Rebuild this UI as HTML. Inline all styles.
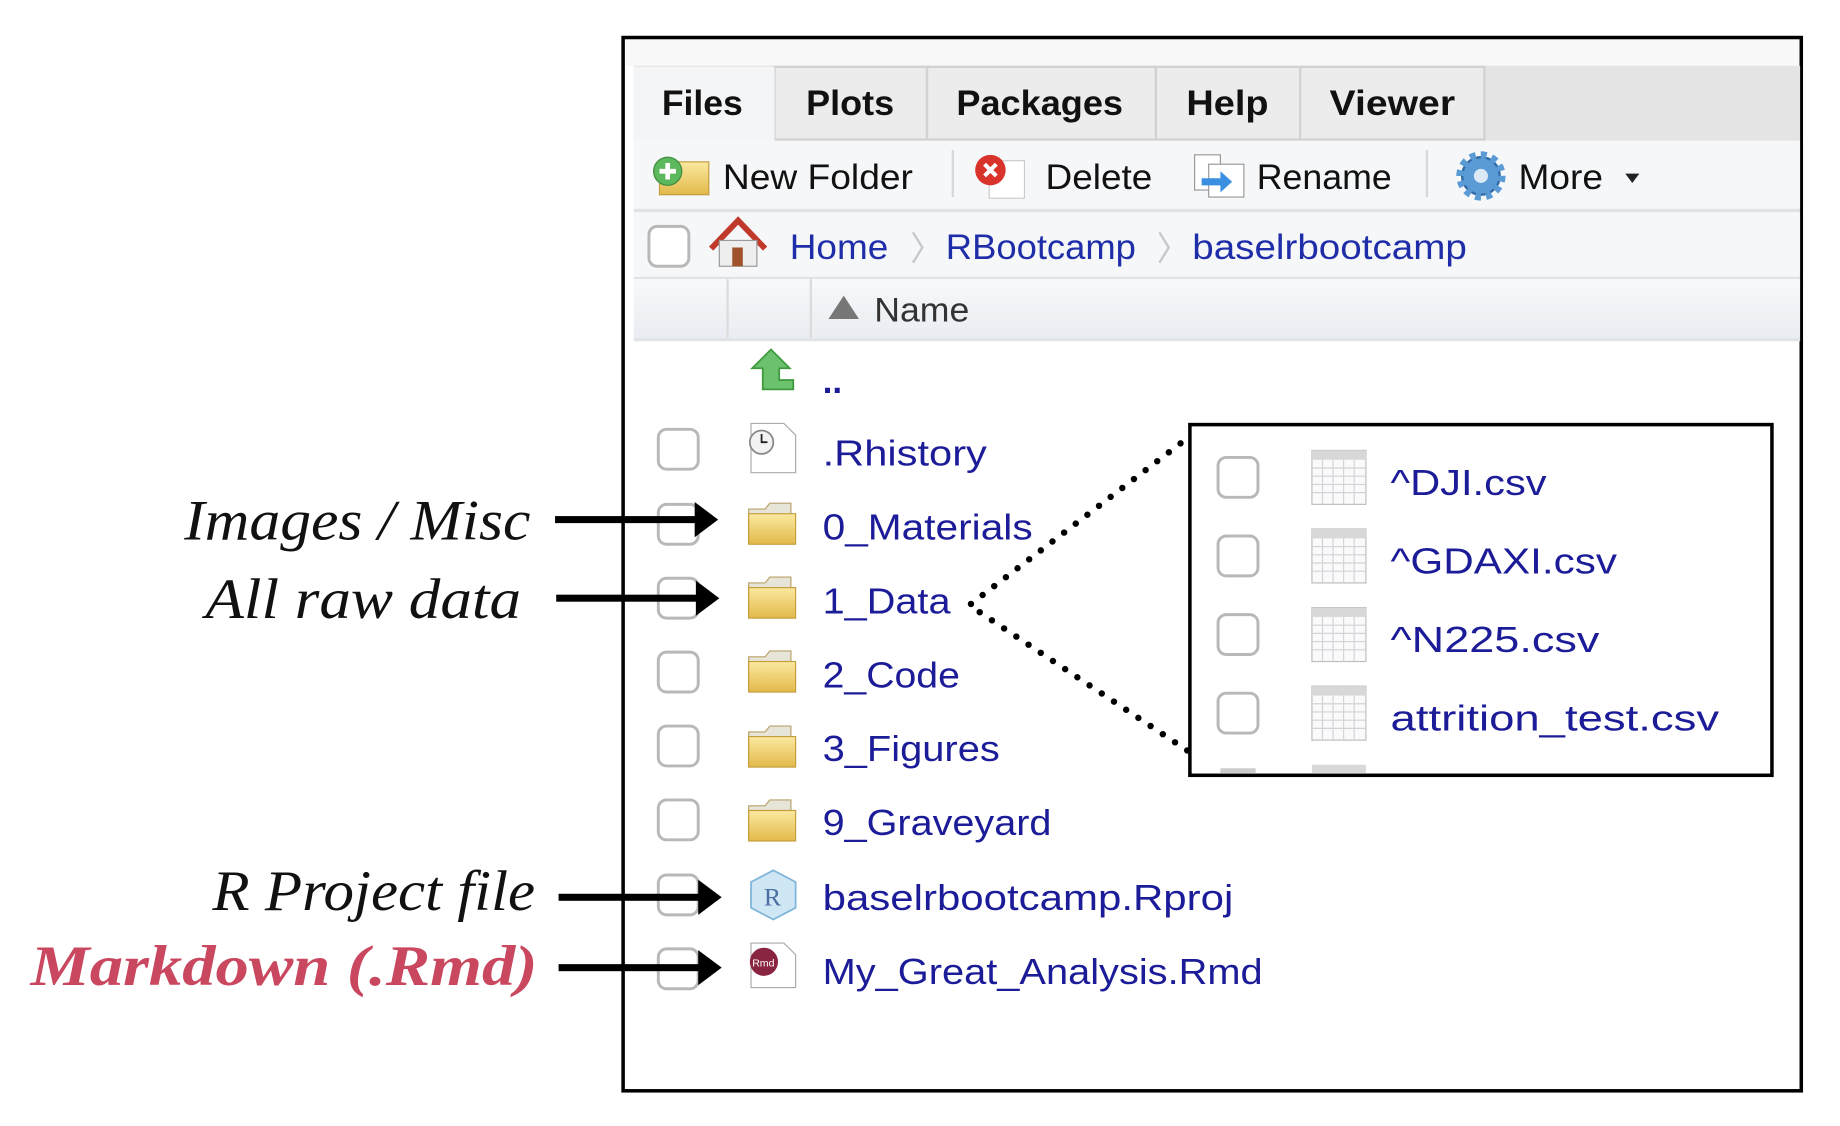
<!DOCTYPE html>
<html><head><meta charset="utf-8"><style>
html,body{margin:0;padding:0;background:#fff;width:1840px;height:1126px;overflow:hidden}
svg{display:block}
.ui{font-family:"Liberation Sans","DejaVu Sans",sans-serif}
.lab{font-family:"Liberation Serif","DejaVu Serif",serif;font-style:italic;font-size:49px}
.f{fill:#1c1c99;font-size:31px}
</style></head><body>
<svg width="1840" height="1126" viewBox="0 0 1568 960" preserveAspectRatio="none" xmlns="http://www.w3.org/2000/svg">
<defs>
<linearGradient id="fold" x1="0" y1="0" x2="0" y2="1"><stop offset="0" stop-color="#fbe9a0"/><stop offset="1" stop-color="#e2b94a"/></linearGradient>
<linearGradient id="hdr" x1="0" y1="0" x2="0" y2="1"><stop offset="0" stop-color="#f7f9fb"/><stop offset="1" stop-color="#e9edf1"/></linearGradient>
<g id="folder"><path d="M0 8 h14 l4 -5 h18 v34 h-36z" fill="#e7e4d8" stroke="#b9a26a"/><rect x="0" y="12" width="40" height="26" fill="url(#fold)" stroke="#c49d3b"/></g>
<g id="cb"><rect x="0" y="0" width="34" height="34" rx="7" fill="#fff" stroke="#b8b8b8" stroke-width="2.5"/></g>
<g id="grid"><rect x="0" y="0" width="46" height="46" fill="#fafafa" stroke="#bdbdbd"/><rect x="0" y="0" width="46" height="8" fill="#d8d8d8"/>
<path d="M0 15h46M0 22h46M0 29h46M0 36h46M9 8v38M18 8v38M27 8v38M36 8v38" stroke="#d2d2d8" stroke-width="1"/></g>
</defs>
<rect x="0" y="0" width="1568" height="960" fill="#fff"/>
<rect x="531" y="32" width="1004" height="898" fill="#fff" stroke="#000" stroke-width="3"/>
<rect x="533" y="34" width="1000" height="22" fill="#f8f8f8"/>
<rect x="540" y="56" width="994" height="64" fill="#e4e4e4"/>
<g stroke="#d2d2d2" stroke-width="2">
<rect x="660" y="57" width="130" height="62" fill="#ececec"/>
<rect x="790" y="57" width="195" height="62" fill="#ececec"/>
<rect x="985" y="57" width="123" height="62" fill="#ececec"/>
<rect x="1108" y="57" width="157" height="62" fill="#ececec"/>
</g>
<rect x="540" y="57" width="120" height="66" fill="#f3f5f7"/>
<g class="ui" font-weight="bold" font-size="30" fill="#111" lengthAdjust="spacingAndGlyphs">
<text x="564" y="98" textLength="69" lengthAdjust="spacingAndGlyphs">Files</text><text x="687" y="98" textLength="75" lengthAdjust="spacingAndGlyphs">Plots</text><text x="815" y="98" textLength="142" lengthAdjust="spacingAndGlyphs">Packages</text><text x="1011" y="98" textLength="70" lengthAdjust="spacingAndGlyphs">Help</text><text x="1133" y="98" textLength="107" lengthAdjust="spacingAndGlyphs">Viewer</text></g>
<rect x="540" y="120" width="994" height="58" fill="#f5f7f9"/>
<rect x="540" y="178" width="994" height="3" fill="#dfe3e7"/>
<g class="ui" font-size="30" fill="#111">
<text x="616" y="161" textLength="162" lengthAdjust="spacingAndGlyphs">New Folder</text><text x="891" y="161" textLength="91" lengthAdjust="spacingAndGlyphs">Delete</text><text x="1071" y="161" textLength="115" lengthAdjust="spacingAndGlyphs">Rename</text><text x="1294" y="161" textLength="72" lengthAdjust="spacingAndGlyphs">More</text></g>
<path d="M1385 148 h12 l-6 8z" fill="#222"/>
<line x1="812" y1="128" x2="812" y2="168" stroke="#d8d8d8" stroke-width="2"/>
<line x1="1216" y1="128" x2="1216" y2="168" stroke="#d8d8d8" stroke-width="2"/>
<rect x="562" y="138" width="42" height="28" fill="url(#fold)" stroke="#c49d3b"/>
<circle cx="569" cy="146" r="12" fill="#5cb85c" stroke="#3d8b3d"/><path d="M569 139v14M562 146h14" stroke="#fff" stroke-width="4"/>
<rect x="843" y="137" width="30" height="32" fill="#fff" stroke="#ccc"/>
<circle cx="844" cy="145" r="13" fill="#d9342b"/><path d="M839 140l10 10M849 140l-10 10" stroke="#fff" stroke-width="3.5"/>
<rect x="1018" y="132" width="22" height="30" fill="#fff" stroke="#999"/><rect x="1030" y="140" width="30" height="28" fill="#fff" stroke="#999"/>
<path d="M1024 152h16v-6l10 9-10 9v-6h-16z" fill="#3b8fe0"/>
<g transform="translate(1262 150)"><circle r="16" fill="#5b9bd5" stroke="#2f6aa5" stroke-width="2"/><circle r="18" fill="none" stroke="#5b9bd5" stroke-width="6" stroke-dasharray="5 4.4"/><circle r="6" fill="#dce9f6"/></g>
<rect x="540" y="181" width="994" height="55" fill="#f5f7f9"/>
<rect x="540" y="236" width="994" height="2" fill="#dfe3e7"/>
<use href="#cb" x="553" y="193"/>
<path d="M606 212 l23 -24 l23 24" fill="none" stroke="#c0392b" stroke-width="5"/>
<rect x="613" y="205" width="32" height="22" fill="#eee" stroke="#999"/><rect x="624" y="211" width="9" height="16" fill="#a0522d"/>
<g class="ui" font-size="30" fill="#1f2ea8"><text x="673" y="221" textLength="84" lengthAdjust="spacingAndGlyphs">Home</text><text x="806" y="221" textLength="162" lengthAdjust="spacingAndGlyphs">RBootcamp</text><text x="1016" y="221" textLength="234" lengthAdjust="spacingAndGlyphs">baselrbootcamp</text></g>
<path d="M778 198 l8 13 -8 13M988 198 l8 13 -8 13" fill="none" stroke="#c8c8c8" stroke-width="2"/>
<rect x="540" y="238" width="994" height="50" fill="url(#hdr)"/>
<rect x="540" y="288" width="994" height="3" fill="#e1e5e9"/>
<line x1="620" y1="238" x2="620" y2="288" stroke="#dcdcdc" stroke-width="2"/>
<line x1="691" y1="238" x2="691" y2="288" stroke="#dcdcdc" stroke-width="2"/>
<path d="M706 272 l13 -20 l13 20z" fill="#777"/>
<text class="ui" x="745" y="274" font-size="29" fill="#333" textLength="81" lengthAdjust="spacingAndGlyphs">Name</text>
<path d="M650 332 v-18 h-9 l16 -16 l16 16 h-9 v10 h12 v8z" fill="#6cc26c" stroke="#3f9a3f" stroke-width="1.5"/>
<text class="ui" x="701" y="335" font-size="30" font-weight="bold" fill="#1c1c99">..</text>
<use href="#cb" x="561" y="366"/>
<path d="M640 361 h28 l10 10 v32 h-38z" fill="#fff" stroke="#aaa"/><circle cx="649" cy="377" r="10" fill="#f3f3f3" stroke="#888" stroke-width="1.5"/><path d="M649 370v7h5" stroke="#222" stroke-width="1.5" fill="none"/>
<g class="ui"><text class="f" x="701" y="397" textLength="140" lengthAdjust="spacingAndGlyphs">.Rhistory</text>
<text class="f" x="701" y="460" textLength="179" lengthAdjust="spacingAndGlyphs">0_Materials</text>
<text class="f" x="701" y="523" textLength="109" lengthAdjust="spacingAndGlyphs">1_Data</text>
<text class="f" x="701" y="586" textLength="117" lengthAdjust="spacingAndGlyphs">2_Code</text>
<text class="f" x="701" y="649" textLength="151" lengthAdjust="spacingAndGlyphs">3_Figures</text>
<text class="f" x="701" y="712" textLength="195" lengthAdjust="spacingAndGlyphs">9_Graveyard</text>
<text class="f" x="701" y="776" textLength="350" lengthAdjust="spacingAndGlyphs">baselrbootcamp.Rproj</text>
<text class="f" x="701" y="839" textLength="375" lengthAdjust="spacingAndGlyphs">My_Great_Analysis.Rmd</text></g>
<use href="#cb" x="561" y="430"/><use href="#cb" x="561" y="493"/><use href="#cb" x="561" y="556"/><use href="#cb" x="561" y="619"/><use href="#cb" x="561" y="682"/><use href="#cb" x="561" y="746"/><use href="#cb" x="561" y="809"/>
<use href="#folder" x="638" y="426"/><use href="#folder" x="638" y="489"/><use href="#folder" x="638" y="552"/><use href="#folder" x="638" y="616"/><use href="#folder" x="638" y="679"/>
<path d="M659 742 l19 10 v22 l-19 10 l-19 -10 v-22z" fill="#cfe6f5" stroke="#7fb5d8" stroke-width="1.5"/><text x="651" y="772" font-family="Liberation Serif,serif" font-size="22" fill="#4a6fa0">R</text>
<path d="M640 804 h28 l10 10 v28 h-38z" fill="#fff" stroke="#aaa"/><circle cx="651" cy="820" r="12" fill="#8a2541"/><text x="641" y="824" font-size="9" fill="#fff" class="ui">Rmd</text>
<rect x="1014" y="362" width="496" height="299" fill="#fff" stroke="#000" stroke-width="3"/>
<use href="#cb" x="1038" y="390"/><use href="#cb" x="1038" y="457"/><use href="#cb" x="1038" y="524"/><use href="#cb" x="1038" y="591"/>
<use href="#grid" x="1118" y="384"/><use href="#grid" x="1118" y="451"/><use href="#grid" x="1118" y="518"/><use href="#grid" x="1118" y="585"/>
<rect x="1040" y="655" width="30" height="4" fill="#ccc"/><rect x="1118" y="652" width="46" height="7" fill="#d8d8d8"/>
<g class="ui"><text class="f" x="1185" y="422" textLength="133" lengthAdjust="spacingAndGlyphs">^DJI.csv</text><text class="f" x="1185" y="489" textLength="193" lengthAdjust="spacingAndGlyphs">^GDAXI.csv</text><text class="f" x="1185" y="556" textLength="178" lengthAdjust="spacingAndGlyphs">^N225.csv</text><text class="f" x="1185" y="623" textLength="280" lengthAdjust="spacingAndGlyphs">attrition_test.csv</text></g>
<g stroke="#000" stroke-width="5.5" stroke-linecap="round" stroke-dasharray="0 12.5" fill="none">
<path d="M1006 378 L826 516 L1012 640"/></g>
<g class="lab" fill="#111">
<text x="157" y="460" textLength="295" lengthAdjust="spacingAndGlyphs">Images / Misc</text>
<text x="175" y="527" textLength="269" lengthAdjust="spacingAndGlyphs">All raw data</text>
<text x="181" y="776" textLength="275" lengthAdjust="spacingAndGlyphs">R Project file</text>
<text x="26" y="840" fill="#c9475f" font-weight="bold" textLength="432" lengthAdjust="spacingAndGlyphs">Markdown (.Rmd)</text></g>
<g fill="#000">
<rect x="473" y="440" width="120" height="6"/><path d="M592 428 l20 15 -20 15z"/>
<rect x="474" y="507" width="120" height="6"/><path d="M593 495 l20 15 -20 15z"/>
<rect x="476" y="762" width="120" height="6"/><path d="M595 750 l20 15 -20 15z"/>
<rect x="476" y="822" width="120" height="6"/><path d="M595 810 l20 15 -20 15z"/>
</g>
</svg>
</body></html>
